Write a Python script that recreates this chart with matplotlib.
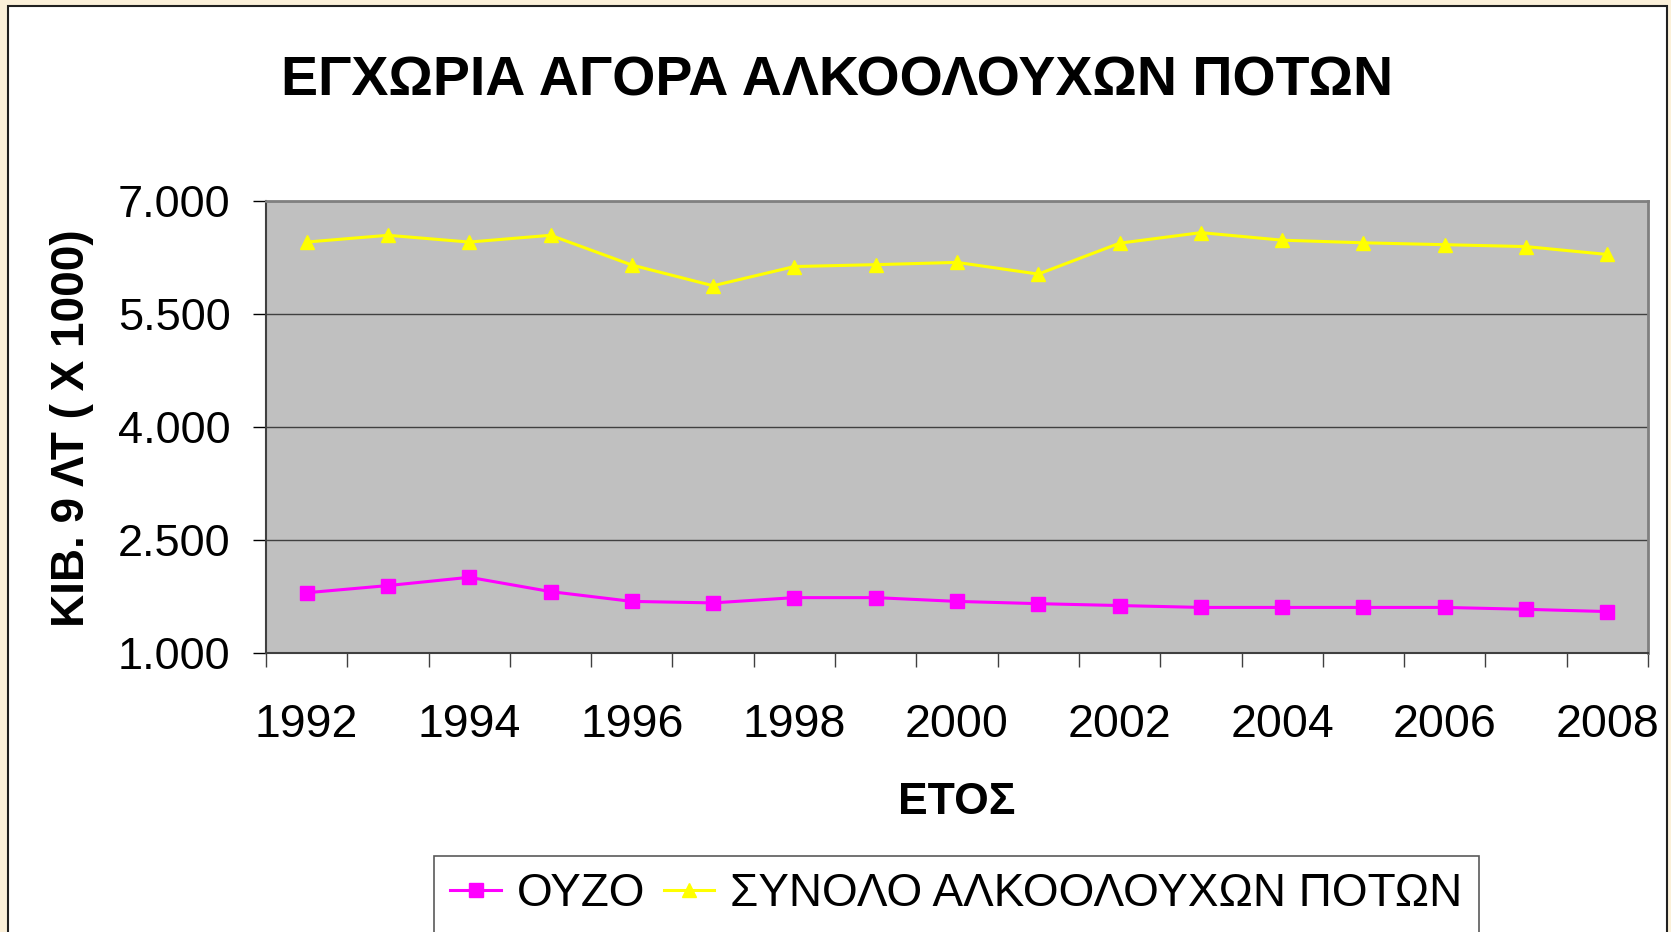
import matplotlib.pyplot as plt
from matplotlib.patches import Rectangle
from matplotlib.ticker import FuncFormatter
import numpy as np

plt.rcParams["font.family"] = ["Liberation Sans", "DejaVu Sans"]

# Data (cases of 9 lt, x 1000)
years = list(range(1992, 2009))
ouzo = [1800, 1895, 2005, 1815, 1685, 1665, 1735, 1735, 1685, 1655,
        1630, 1605, 1605, 1605, 1605, 1580, 1550]
total = [6455, 6545, 6455, 6545, 6150, 5875, 6130, 6155, 6185, 6030,
         6440, 6580, 6480, 6445, 6420, 6395, 6290]
yticks = [1000, 2500, 4000, 5500, 7000]

title = "ΕΓΧΩΡΙΑ ΑΓΟΡΑ ΑΛΚΟΟΛΟΥΧΩΝ ΠΟΤΩΝ"
ylabel = "ΚΙΒ. 9 ΛΤ ( Χ 1000)"
xlabel = "ΕΤΟΣ"
series_names = ["ΟΥΖΟ", "ΣΥΝΟΛΟ ΑΛΚΟΟΛΟΥΧΩΝ ΠΟΤΩΝ"]

W, H = 1671, 932
fig = plt.figure(figsize=(W / 100, H / 100), dpi=100, facecolor="#FBF0D9")

# white chart area with dark border
fig.add_artist(Rectangle((8 / W, -0.01), (1667 - 8) / W, 1.01 - 6 / H,
                         transform=fig.transFigure, facecolor="white",
                         edgecolor="#202020", linewidth=1.5, zorder=0))

ax = fig.add_axes([266 / W, 1 - 653 / H, (1648 - 266) / W, (653 - 201) / H])
ax.set_facecolor("#C0C0C0")

x = np.arange(len(years))
ax.plot(x, ouzo, color="#FF00FF", lw=2.2, marker="s", ms=9.5,
        label=series_names[0], zorder=3)
ax.plot(x, total, color="#FFFF00", lw=2.2, marker="^", ms=10.5,
        label=series_names[1], zorder=3)

ax.set_xlim(-0.5, len(years) - 0.5)
ax.set_ylim(yticks[0], yticks[-1])

# y axis
ax.set_yticks(yticks)
ax.yaxis.set_major_formatter(FuncFormatter(lambda v, p: f"{int(v):,}".replace(",", ".")))
ax.tick_params(axis="y", direction="out", length=9.5, width=1, pad=16,
               labelsize=32.5, colors="black")
ax.yaxis.grid(True, color="#404040", lw=1.0)
ax.set_axisbelow(True)

# x axis: ticks between categories, labels every other year
ax.set_xticks(x[::2])
ax.set_xticklabels([str(y) for y in years[::2]])
ax.set_xticks(np.arange(-0.5, len(years), 1.0), minor=True)
ax.tick_params(axis="x", which="major", length=0, pad=36, labelsize=33.5)
ax.tick_params(axis="x", which="minor", direction="out", length=10, width=1,
               color="#404040")

for side in ["left", "bottom"]:
    ax.spines[side].set_color("#404040")
    ax.spines[side].set_linewidth(1.5)
for side in ["top", "right"]:
    ax.spines[side].set_color("#808080")
    ax.spines[side].set_linewidth(2)

# titles
fig.text(837.5 / W, 1 - 95 / H, title, ha="center", va="baseline",
         fontsize=40, fontweight="bold")
fig.text(84 / W, 1 - 428 / H, ylabel, rotation=90, rotation_mode="anchor",
         ha="center", va="baseline", fontsize=33, fontweight="bold")
fig.text(957 / W, 1 - 814 / H, xlabel, ha="center", va="baseline",
         fontsize=32, fontweight="bold")

leg = fig.legend(loc="center", bbox_to_anchor=(956.5 / W, 1 - 894.5 / H),
                 ncol=2, fontsize=33, frameon=True, fancybox=False,
                 edgecolor="#303030", handlelength=1.1, handletextpad=0.35,
                 columnspacing=0.4, borderpad=0.35)
leg.get_frame().set_linewidth(1.2)

fig.savefig("out.png", dpi=100, facecolor=fig.get_facecolor())
